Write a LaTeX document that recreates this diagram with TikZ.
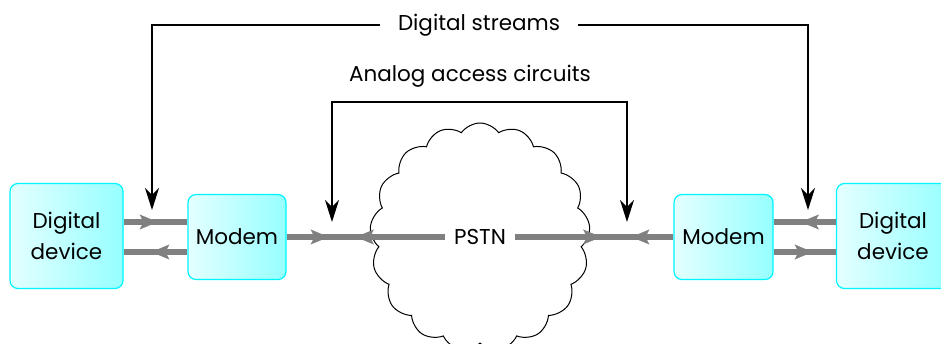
\documentclass[tikz,border=0pt]{standalone}
\usepackage{fontspec}
\setmainfont{Poppins}
\usetikzlibrary{arrows.meta,shapes.symbols,decorations.markings}
\definecolor{boxedge}{RGB}{0,245,255}
\definecolor{boxlight}{RGB}{228,255,255}
\definecolor{boxdark}{RGB}{150,255,255}
\definecolor{linegray}{RGB}{128,128,128}
\begin{document}
\begin{tikzpicture}[x=1pt,y=-1pt,
    font=\fontsize{21.5}{31}\selectfont,
    box/.style={draw=boxedge, line width=1.2pt, rounded corners=8pt, left color=boxlight, right color=boxdark, align=center, inner sep=0pt},
    gline/.style={draw=linegray, line width=6pt},
    ghead/.style={postaction={decorate}, decoration={markings, mark=at position #1 with {\arrow[linegray, line width=0.5pt]{Stealth[length=18pt,width=15pt,inset=4pt]}}}},
    sig/.style={line width=1.3pt, -{Stealth[length=22pt,width=14pt,inset=7pt]}},
    sigboth/.style={line width=1.3pt, {Stealth[length=22pt,width=14pt,inset=7pt]}-{Stealth[length=22pt,width=14pt,inset=7pt]}}
  ]
  \useasboundingbox (0,0) rectangle (941,344);

  % Boxes
  \node[box, minimum width=113pt, minimum height=105pt] (dl) at (66.5,236) {Digital\\device};
  \node[box, minimum width=98pt, minimum height=85pt] (ml) at (237,237) {Modem};
  \node[box, minimum width=99pt, minimum height=85pt] (mr) at (723.5,237) {Modem};
  \node[box, minimum width=113pt, minimum height=105pt] (dr) at (893,236) {Digital\\device};

  % Network
  \node[cloud, draw, fill=white, cloud puffs=17, cloud puff arc=110, minimum width=220pt, minimum height=228pt, line width=1pt, inner sep=0pt] (net) at (480,237) {};
  \node[inner xsep=9pt] (pstn) at (480,237) {PSTN};

  % Gray links
  \coordinate (lu) at ([yshift=15pt]ml.west);
  \coordinate (ld) at ([yshift=-15pt]ml.west);
  \coordinate (ru) at ([yshift=15pt]mr.east);
  \coordinate (rd) at ([yshift=-15pt]mr.east);
  \draw[gline, ghead=34pt] (dl.east |- lu) -- (lu);
  \draw[gline, ghead=36pt] (ld) -- (dl.east |- ld);
  \draw[gline, ghead=35pt] (dr.west |- ru) -- (ru);
  \draw[gline, ghead=39pt] (rd) -- (dr.west |- rd);
  \draw[gline, ghead=42pt] (ml) -- (pstn);
  \draw[gline, ghead=89pt] (pstn) -- (ml);
  \draw[gline, ghead=86pt] (pstn) -- (mr);
  \draw[gline, ghead=42pt] (mr) -- (pstn);

  % Labels and pointers
  \node[minimum width=198pt, inner sep=0pt] (ds) at (479,25) {Digital streams};
  \node (aa) at (470,76) {Analog access circuits};
  \coordinate (dsl) at (152,210);
  \coordinate (dsr) at (808,210);
  \coordinate (acl) at (332,222);
  \coordinate (acr) at (627,222);
  \coordinate (act) at (480,102);
  \draw[sig] (ds) -| (dsl);
  \draw[sig] (ds) -| (dsr);
  \draw[sigboth] (acl) |- (act) -| (acr);
\end{tikzpicture}
\end{document}
